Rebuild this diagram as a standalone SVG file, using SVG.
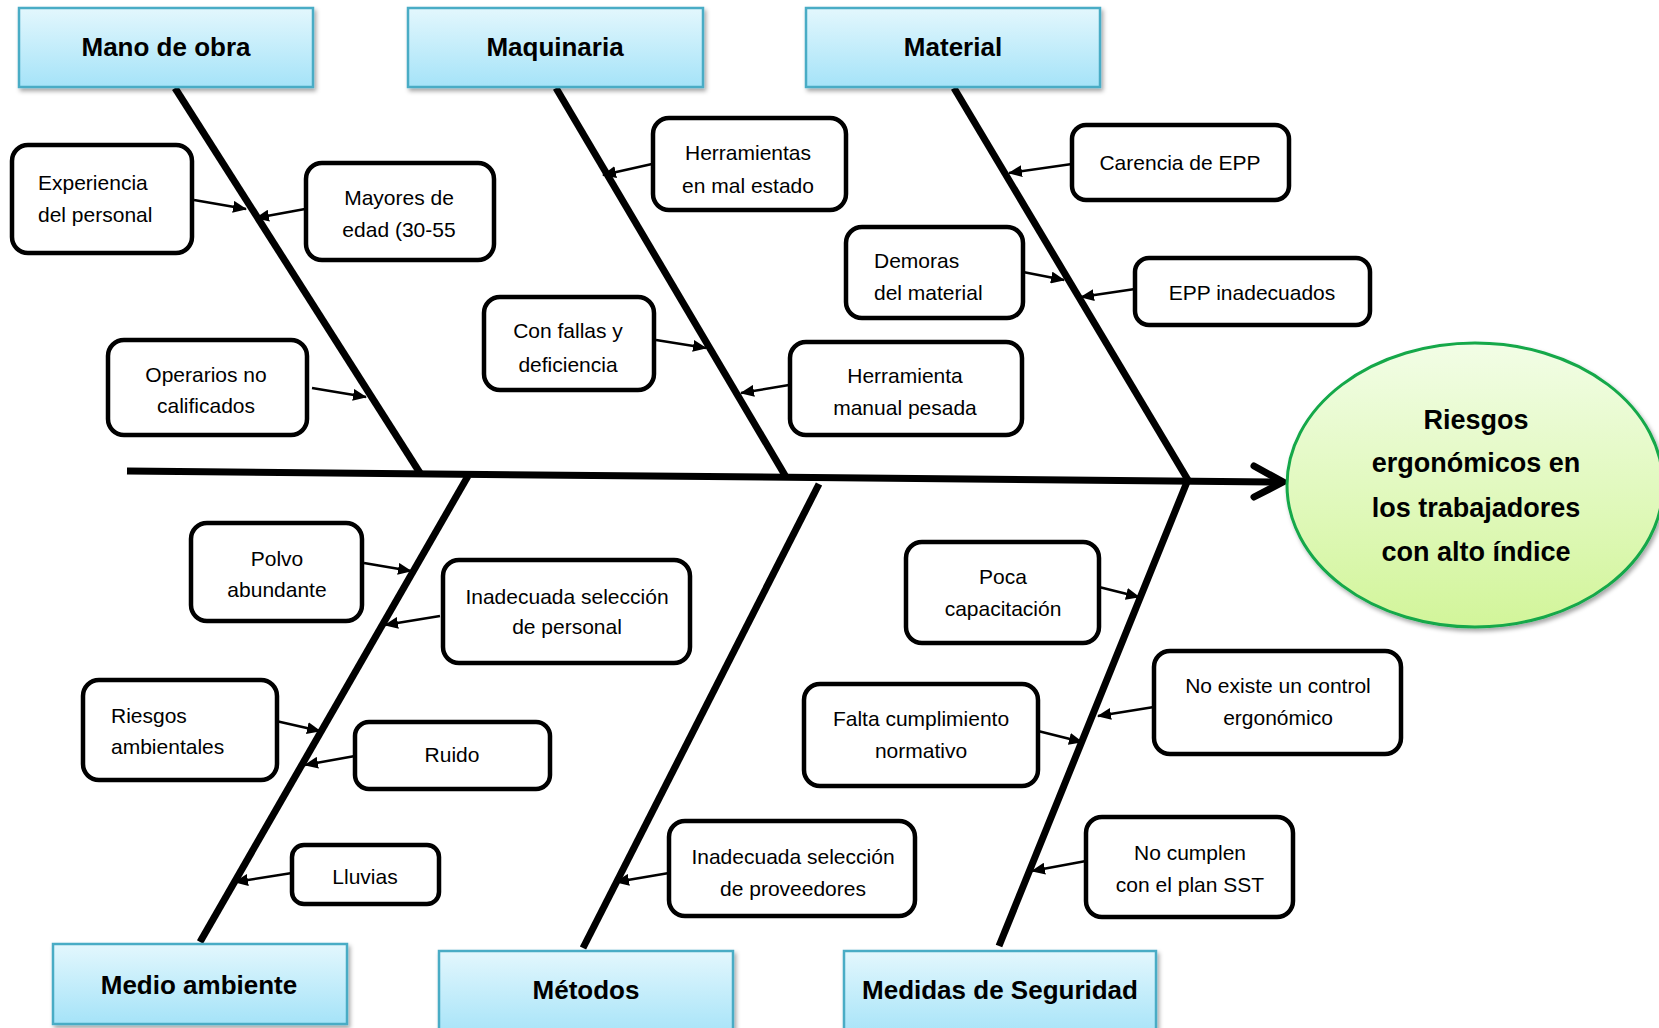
<svg xmlns="http://www.w3.org/2000/svg" width="1659" height="1028" viewBox="0 0 1659 1028">
<defs>
<linearGradient id="hdr" x1="0" y1="0" x2="0" y2="1">
<stop offset="0" stop-color="#e3f7fd"/>
<stop offset="1" stop-color="#a5e3f8"/>
</linearGradient>
<linearGradient id="eff" x1="0" y1="0" x2="0" y2="1">
<stop offset="0" stop-color="#f2fde6"/>
<stop offset="1" stop-color="#d2f59a"/>
</linearGradient>
<filter id="sh" x="-10%" y="-10%" width="130%" height="130%">
<feDropShadow dx="2" dy="3" stdDeviation="2" flood-color="#000" flood-opacity="0.35"/>
</filter>
<marker id="ah" viewBox="0 0 14 12" refX="13" refY="6" markerWidth="14" markerHeight="12" markerUnits="userSpaceOnUse" orient="auto">
<path d="M0,0 L14,6 L0,12 Z" fill="#000"/>
</marker>
</defs>
<style>
.hdr{fill:url(#hdr);stroke:#4aacc5;stroke-width:2.5;filter:url(#sh)}
.ht{font-family:"Liberation Sans",Arial,sans-serif;font-weight:bold;font-size:26px;fill:#000;text-anchor:middle}
.box{fill:#fff;stroke:#000;stroke-width:4.5}
.t{font-family:"Liberation Sans",Arial,sans-serif;font-size:21px;fill:#000;text-anchor:middle}
.tl{font-family:"Liberation Sans",Arial,sans-serif;font-size:21px;fill:#000}
.bone{stroke:#000;stroke-width:7;fill:none}
.arr{stroke:#000;stroke-width:2.5;fill:none;marker-end:url(#ah)}
.eff{fill:url(#eff);stroke:#12a84a;stroke-width:3;filter:url(#sh)}
.et{font-family:"Liberation Sans",Arial,sans-serif;font-weight:bold;font-size:27px;fill:#000;text-anchor:middle}
</style>
<rect width="1659" height="1028" fill="#fff"/>

<g id="connectors">
<line class="bone" x1="127" y1="471" x2="1283" y2="482"/>
<polyline points="1254,466 1283,482 1254,497" fill="none" stroke="#000" stroke-width="7" stroke-linecap="round" stroke-linejoin="miter"/>
<line class="bone" x1="175" y1="88" x2="420" y2="473"/>
<line class="bone" x1="556" y1="88" x2="786" y2="477"/>
<line class="bone" x1="954" y1="88" x2="1188" y2="480"/>
<line class="bone" x1="468" y1="476" x2="200" y2="942"/>
<line class="bone" x1="819" y1="484" x2="583" y2="948"/>
<line class="bone" x1="1187" y1="482" x2="999" y2="946"/>
<line class="arr" x1="194" y1="200" x2="246" y2="209"/>
<line class="arr" x1="305" y1="209" x2="256" y2="218"/>
<line class="arr" x1="312" y1="388" x2="366" y2="397"/>
<line class="arr" x1="652" y1="164" x2="603" y2="175"/>
<line class="arr" x1="656" y1="340" x2="706" y2="348"/>
<line class="arr" x1="789" y1="385" x2="741" y2="393"/>
<line class="arr" x1="1072" y1="164" x2="1009" y2="173"/>
<line class="arr" x1="1023" y1="272" x2="1064" y2="280"/>
<line class="arr" x1="1135" y1="289" x2="1081" y2="297"/>
<line class="arr" x1="364" y1="563" x2="411" y2="571"/>
<line class="arr" x1="440" y1="616" x2="385" y2="625"/>
<line class="arr" x1="276" y1="721" x2="320" y2="731"/>
<line class="arr" x1="355" y1="756" x2="305" y2="765"/>
<line class="arr" x1="292" y1="873" x2="235" y2="882"/>
<line class="arr" x1="1099" y1="587" x2="1139" y2="597"/>
<line class="arr" x1="1154" y1="707" x2="1098" y2="716"/>
<line class="arr" x1="1038" y1="731" x2="1082" y2="742"/>
<line class="arr" x1="669" y1="873" x2="616" y2="882"/>
<line class="arr" x1="1086" y1="861" x2="1032" y2="871"/>
</g>

<g id="hdr-mano"><rect class="hdr" x="19" y="8" width="294" height="79"/><text class="ht" x="166" y="56">Mano de obra</text></g>
<g id="hdr-maquinaria"><rect class="hdr" x="408" y="8" width="295" height="79"/><text class="ht" x="555" y="56">Maquinaria</text></g>
<g id="hdr-material"><rect class="hdr" x="806" y="8" width="294" height="79"/><text class="ht" x="953" y="56">Material</text></g>
<g id="hdr-medio"><rect class="hdr" x="53" y="944" width="294" height="80"/><text class="ht" x="199" y="994">Medio ambiente</text></g>
<g id="hdr-metodos"><rect class="hdr" x="439" y="951" width="294" height="86"/><text class="ht" x="586" y="999">Métodos</text></g>
<g id="hdr-medidas"><rect class="hdr" x="844" y="951" width="312" height="86"/><text class="ht" x="1000" y="999">Medidas de Seguridad</text></g>

<g id="n-experiencia"><rect class="box" x="12" y="145" width="180" height="108" rx="16"/><text class="tl" x="38" y="190">Experiencia</text><text class="tl" x="38" y="222">del personal</text></g>
<g id="n-mayores"><rect class="box" x="306" y="163" width="188" height="97" rx="16"/><text class="t" x="399" y="205">Mayores de</text><text class="t" x="399" y="237">edad (30-55</text></g>
<g id="n-operarios"><rect class="box" x="108" y="340" width="199" height="95" rx="16"/><text class="t" x="206" y="382">Operarios no</text><text class="t" x="206" y="413">calificados</text></g>
<g id="n-herramientas"><rect class="box" x="653" y="118" width="193" height="92" rx="16"/><text class="t" x="748" y="160">Herramientas</text><text class="t" x="748" y="193">en mal estado</text></g>
<g id="n-confallas"><rect class="box" x="484" y="297" width="170" height="93" rx="16"/><text class="t" x="568" y="338">Con fallas y</text><text class="t" x="568" y="372">deficiencia</text></g>
<g id="n-herramienta"><rect class="box" x="790" y="342" width="232" height="93" rx="16"/><text class="t" x="905" y="383">Herramienta</text><text class="t" x="905" y="415">manual pesada</text></g>
<g id="n-carencia"><rect class="box" x="1072" y="125" width="217" height="75" rx="14"/><text class="t" x="1180" y="170">Carencia de EPP</text></g>
<g id="n-demoras"><rect class="box" x="846" y="227" width="177" height="91" rx="16"/><text class="tl" x="874" y="268">Demoras</text><text class="tl" x="874" y="300">del material</text></g>
<g id="n-epp"><rect class="box" x="1135" y="258" width="235" height="67" rx="14"/><text class="t" x="1252" y="300">EPP inadecuados</text></g>
<g id="n-polvo"><rect class="box" x="191" y="523" width="171" height="98" rx="16"/><text class="t" x="277" y="566">Polvo</text><text class="t" x="277" y="597">abundante</text></g>
<g id="n-inadecuada-personal"><rect class="box" x="443" y="560" width="247" height="103" rx="16"/><text class="t" x="567" y="604">Inadecuada selección</text><text class="t" x="567" y="634">de personal</text></g>
<g id="n-riesgos-amb"><rect class="box" x="83" y="680" width="194" height="100" rx="16"/><text class="tl" x="111" y="723">Riesgos</text><text class="tl" x="111" y="754">ambientales</text></g>
<g id="n-ruido"><rect class="box" x="355" y="722" width="195" height="67" rx="14"/><text class="t" x="452" y="762">Ruido</text></g>
<g id="n-lluvias"><rect class="box" x="292" y="845" width="147" height="59" rx="12"/><text class="t" x="365" y="884">Lluvias</text></g>
<g id="n-poca"><rect class="box" x="906" y="542" width="193" height="101" rx="16"/><text class="t" x="1003" y="584">Poca</text><text class="t" x="1003" y="616">capacitación</text></g>
<g id="n-noexiste"><rect class="box" x="1154" y="651" width="247" height="103" rx="16"/><text class="t" x="1278" y="693">No existe un control</text><text class="t" x="1278" y="725">ergonómico</text></g>
<g id="n-falta"><rect class="box" x="804" y="684" width="234" height="102" rx="16"/><text class="t" x="921" y="726">Falta cumplimiento</text><text class="t" x="921" y="758">normativo</text></g>
<g id="n-proveedores"><rect class="box" x="669" y="821" width="246" height="95" rx="16"/><text class="t" x="793" y="864">Inadecuada selección</text><text class="t" x="793" y="896">de proveedores</text></g>
<g id="n-nocumplen"><rect class="box" x="1086" y="817" width="207" height="100" rx="16"/><text class="t" x="1190" y="860">No cumplen</text><text class="t" x="1190" y="892">con el plan SST</text></g>

<g id="effect"><ellipse class="eff" cx="1475" cy="485" rx="188" ry="142"/>
<text class="et" x="1476" y="429">Riesgos</text>
<text class="et" x="1476" y="472">ergonómicos en</text>
<text class="et" x="1476" y="517">los trabajadores</text>
<text class="et" x="1476" y="561">con alto índice</text></g>
</svg>
